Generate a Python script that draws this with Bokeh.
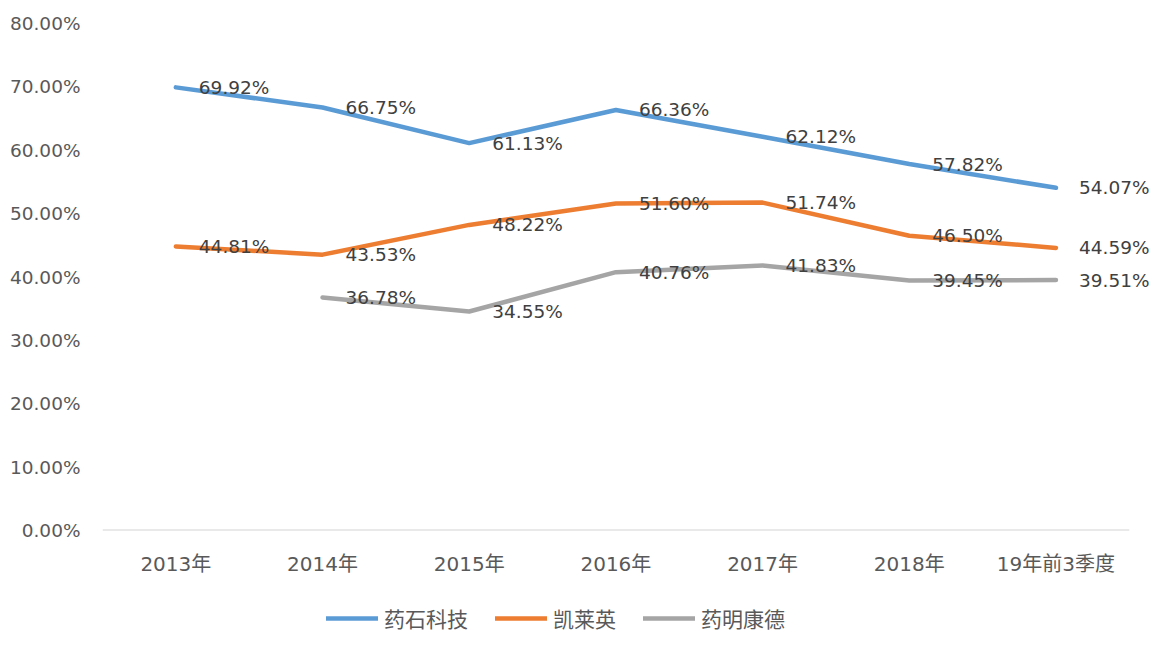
from bokeh.plotting import figure
from bokeh.models import Range1d, NumeralTickFormatter, Legend, LegendItem, ColumnDataSource, FixedTicker
from bokeh.layouts import column
from bokeh.core.properties import value
from bokeh.embed import file_html
from bokeh.resources import INLINE

categories = ["2013年", "2014年", "2015年", "2016年", "2017年", "2018年", "19年前3季度"]
names = ["药石科技", "凯莱英", "药明康德"]
yaoshi = [69.92, 66.75, 61.13, 66.36, 62.12, 57.82, 54.07]
kailaiying = [44.81, 43.53, 48.22, 51.60, 51.74, 46.50, 44.59]
yaoming = [None, 36.78, 34.55, 40.76, 41.83, 39.45, 39.51]
colors = ["#5b9bd5", "#ed7d31", "#a5a5a5"]
y_ticks = [0, 0.1, 0.2, 0.3, 0.4, 0.5, 0.6, 0.7, 0.8]

NUM = "DejaVu Sans"
CJK = "DejaVu Sans, Noto Sans CJK SC"

n = len(categories)
xs = list(range(n))
p = figure(width=1153, height=600, x_range=Range1d(-0.5, 6.665), y_range=Range1d(0, 0.8),
           output_backend="svg", toolbar_location=None,
           min_border_left=102, min_border_right=0, min_border_top=23, min_border_bottom=70)
p.outline_line_color = None
p.xgrid.grid_line_color = None
p.ygrid.grid_line_color = None

p.yaxis.ticker = FixedTicker(ticks=y_ticks)
p.yaxis.formatter = NumeralTickFormatter(format="0.00%")
p.yaxis.axis_line_color = None
p.yaxis.major_tick_line_color = None
p.yaxis.minor_tick_line_color = None
p.yaxis.major_tick_out = 0
p.yaxis.major_label_standoff = 22
p.yaxis.major_label_text_font = NUM
p.yaxis.major_label_text_font_size = "18.5px"
p.yaxis.major_label_text_color = "#595959"

p.xaxis.ticker = FixedTicker(ticks=xs)
p.xaxis.major_label_overrides = {i: c for i, c in enumerate(categories)}
p.xaxis.axis_line_color = None
p.xaxis.major_tick_line_color = None
p.xaxis.minor_tick_line_color = None
p.xaxis.major_tick_out = 0
p.xaxis.major_label_standoff = 21
p.xaxis.major_label_text_font = CJK
p.xaxis.major_label_text_font_size = "20px"
p.xaxis.major_label_text_color = "#595959"

# category axis baseline spanning the categories only
p.segment(x0=[-0.5], y0=[0], x1=[n - 0.5], y1=[0], line_color="#d4d4d4", line_width=2)

for name, vals, c in zip(names, [yaoshi, kailaiying, yaoming], colors):
    ys = [float("nan") if v is None else v / 100 for v in vals]
    labs = ["" if v is None else f"{v:.2f}%" for v in vals]
    src = ColumnDataSource(dict(x=xs, y=ys, lab=labs))
    p.line("x", "y", source=src, line_color=c, line_width=4.5, line_cap="round", line_join="round")
    p.text("x", "y", text="lab", source=src, x_offset=23, text_baseline="middle", text_align="left",
           text_font=value(NUM), text_font_size="18.5px", text_color="#404040")

# legend strip below the chart
p2 = figure(width=1153, height=55, x_range=Range1d(0, 1), y_range=Range1d(0, 1),
            output_backend="svg", toolbar_location=None,
            min_border_left=0, min_border_right=0, min_border_top=0, min_border_bottom=0)
p2.axis.visible = False
p2.grid.visible = False
p2.outline_line_color = None
items = []
for name, c in zip(names, colors):
    r = p2.line(x=[5, 6], y=[5, 6], line_color=c, line_width=4.5, line_cap="round")
    items.append(LegendItem(label=name, renderers=[r]))
legend = Legend(items=items, orientation="horizontal", location=(224, 22),
                label_text_font=CJK, label_text_font_size="21px", label_text_color="#595959",
                glyph_width=52, glyph_height=24, spacing=27, label_standoff=6,
                border_line_color=None, background_fill_alpha=0, margin=0, padding=0)
p2.add_layout(legend, "center")

open("out.html", "w").write(file_html(column(p, p2), INLINE))
